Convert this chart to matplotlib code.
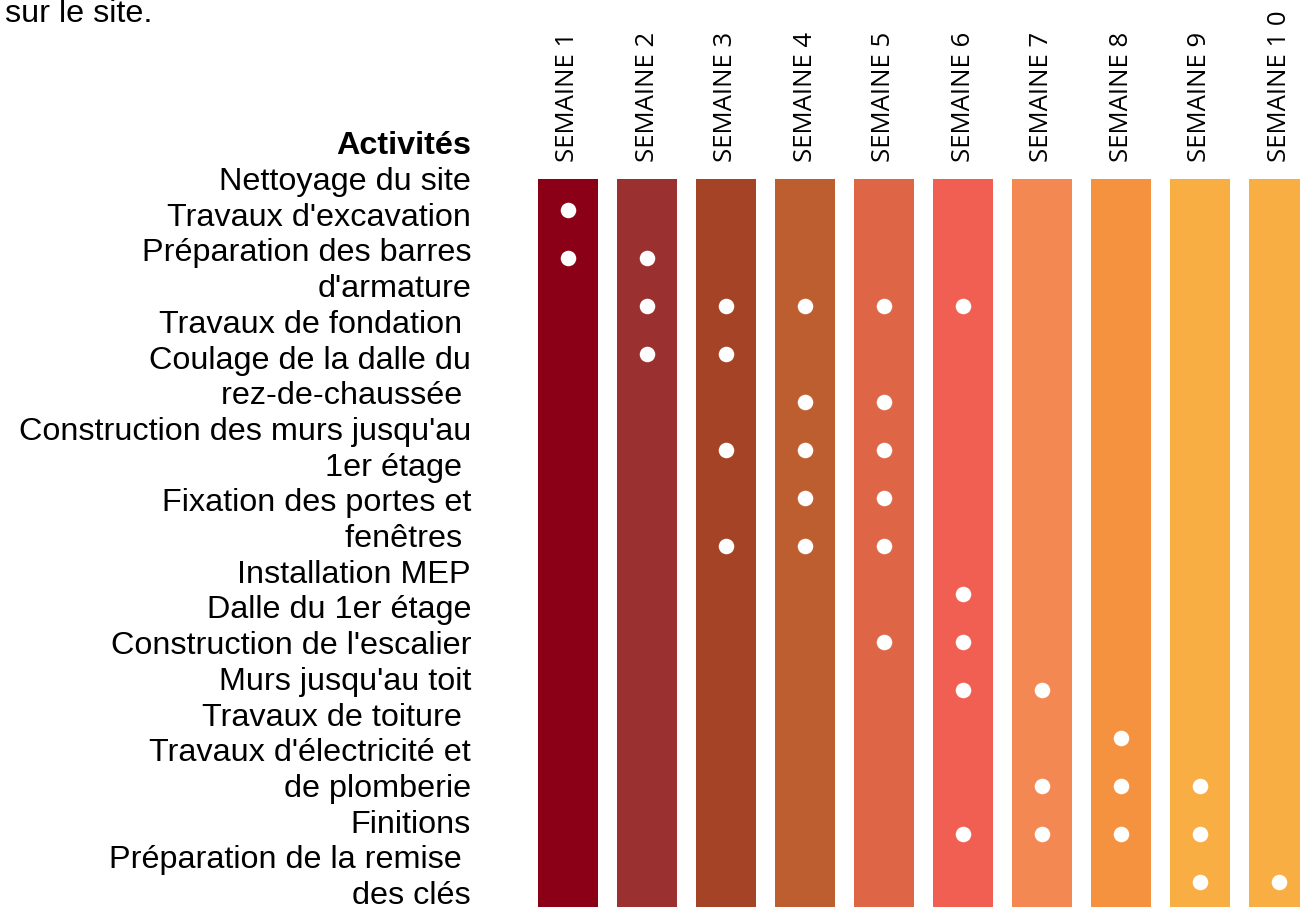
import matplotlib.pyplot as plt

# --- data --- #
weeks = [1, 2, 3, 4, 5, 6, 7, 8, 9, 10]
week_labels = ['SEMAINE 1', 'SEMAINE 2', 'SEMAINE 3', 'SEMAINE 4', 'SEMAINE 5',
               'SEMAINE 6', 'SEMAINE 7', 'SEMAINE 8', 'SEMAINE 9', 'SEMAINE 1 0']
week_colors = ['#8b0016', '#9b3030', '#a54327', '#bc5e30', '#de6546',
               '#f05f52', '#f48852', '#f49240', '#f9ae44', '#f9ae44']

activities = [
    "Nettoyage du site",
    "Travaux d'excavation",
    "Préparation des barres\nd'armature",
    "Travaux de fondation ",
    "Coulage de la dalle du\nrez-de-chaussée ",
    "Construction des murs jusqu'au\n1er étage ",
    "Fixation des portes et\nfenêtres ",
    "Installation MEP",
    "Dalle du 1er étage",
    "Construction de l'escalier",
    "Murs jusqu'au toit",
    "Travaux de toiture ",
    "Travaux d'électricité et\nde plomberie",
    "Finitions",
    "Préparation de la remise \ndes clés",
]

# weeks in which each dot row is marked
active_weeks = [
    [1],
    [1, 2],
    [2, 3, 4, 5, 6],
    [2, 3],
    [4, 5],
    [3, 4, 5],
    [4, 5],
    [3, 4, 5],
    [6],
    [5, 6],
    [6, 7],
    [8],
    [7, 8, 9],
    [6, 7, 8, 9],
    [9, 10],
]

# --- figure --- #
W, H = 1300, 907
fig = plt.figure(figsize=(W / 100, H / 100), dpi=100)

# grid axes: week columns, activity rows
ax = fig.add_axes([528.5 / W, 0, 790 / W, (H - 179) / H])
ax.set_xlim(0.5, 10.5)
ax.set_ylim(14.52, -0.646)

for w, c in zip(weeks, week_colors):
    ax.axvspan(w - 0.386, w + 0.386, color=c, lw=0)

xs, ys = [], []
for r, wk in enumerate(active_weeks):
    for w in wk:
        xs.append(w)
        ys.append(r)
ax.scatter(xs, ys, s=125, color='white', zorder=3, lw=0)

ax.xaxis.tick_top()
ax.set_xticks(weeks)
ax.set_xticklabels(week_labels, rotation=90, fontsize=18.5, family='Open Sans',
                   va='bottom', ha='center')
ax.tick_params(axis='x', length=0, pad=12)
ax.set_yticks([])
for s in ax.spines.values():
    s.set_visible(False)

# --- left labels --- #
txt_right = 471 / W
line_h = 35.7
base0 = 190
fs = 23.3
fig.text(txt_right, 1 - (base0 - line_h) / H, 'Activités', ha='right', va='baseline',
         fontsize=fs, fontweight='bold', family='Liberation Sans')
lines = []
for a in activities:
    lines.extend(a.split('\n'))
for i, ln in enumerate(lines):
    fig.text(txt_right, 1 - (base0 + line_h * i) / H, ln, ha='right', va='baseline',
             fontsize=fs, family='Liberation Sans')

fig.text(5 / W, 1 - 22 / H, 'sur le site.', ha='left', va='baseline',
         fontsize=fs, family='Liberation Sans')

fig.savefig('out.png', dpi=100)
